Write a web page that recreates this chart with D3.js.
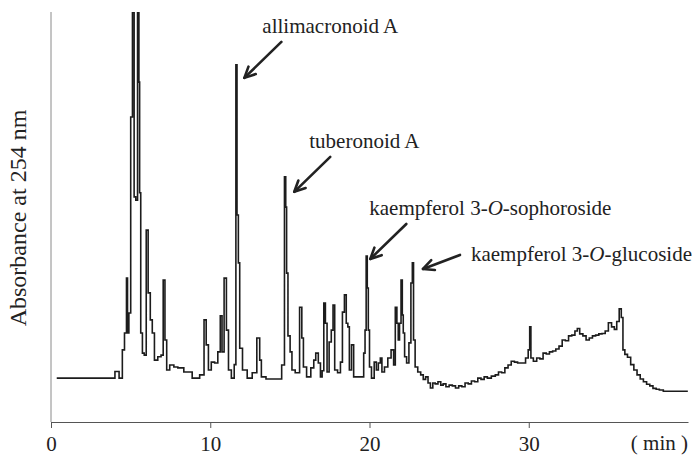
<!DOCTYPE html>
<html>
<head>
<meta charset="utf-8">
<script src="https://cdn.jsdelivr.net/npm/d3@7"></script>
<style>
  html, body { margin: 0; padding: 0; background: #fff; }
  svg { display: block; }
  text { font-family: "Liberation Serif", "DejaVu Serif", serif; fill: #222; }
</style>
</head>
<body>
<div class="chart"></div>
<script>
// 크로마토그램 데이터 (retention time, min / absorbance, 임의 단위)
const times = [
  0.36, 3.91, 4.12, 4.43, 4.53, 4.70, 4.78, 4.83, 4.95, 5.06,
  5.17, 5.27, 5.38, 5.49, 5.55, 5.58, 5.69, 5.79, 5.92, 6.04,
  6.16, 6.31, 6.41, 6.58, 6.83, 6.99, 7.10, 7.21, 7.32, 7.59,
  7.84, 8.09, 8.59, 9.14, 9.53, 9.69, 9.80, 9.97, 10.16, 10.39,
  10.56, 10.70, 10.78, 10.96, 11.07, 11.22, 11.43, 11.58, 11.64, 11.72,
  11.81, 11.89, 12.16, 12.48, 12.79, 13.06, 13.15, 13.27, 13.73, 14.36,
  14.61, 14.71, 14.77, 14.82, 14.94, 15.09, 15.17, 15.50, 15.72, 15.78,
  15.92, 16.18, 16.45, 16.55, 16.70, 16.87, 16.97, 17.08, 17.18, 17.28,
  17.39, 17.54, 17.66, 17.76, 17.87, 18.12, 18.23, 18.37, 18.48, 18.60,
  18.68, 18.79, 18.95, 19.06, 19.58, 19.69, 19.75, 19.83, 19.89, 19.96,
  20.04, 20.21, 20.38, 20.48, 20.63, 20.73, 20.83, 21.05, 21.25, 21.46,
  21.57, 21.67, 21.77, 21.84, 21.93, 22.03, 22.09, 22.15, 22.26, 22.40,
  22.55, 22.65, 22.73, 22.80, 22.93, 23.13, 23.30, 23.45, 23.60, 23.75,
  23.90, 24.05, 24.20, 24.40, 24.55, 24.70, 24.90, 25.10, 25.30, 25.50,
  25.70, 25.90, 26.10, 26.30, 26.50, 26.70, 26.90, 27.10, 27.30, 27.50,
  27.80, 28.00, 28.20, 28.40, 28.60, 28.80, 29.00, 29.20, 29.40, 29.70,
  29.90, 30.03, 30.09, 30.18, 30.40, 30.60, 30.80, 31.00, 31.20, 31.40,
  31.60, 31.80, 32.00, 32.20, 32.40, 32.60, 32.80, 33.00, 33.10, 33.30,
  33.50, 33.70, 33.90, 34.10, 34.30, 34.50, 34.70, 34.90, 35.10, 35.30,
  35.45, 35.60, 35.76, 35.86, 35.97, 36.10, 36.30, 36.50, 36.70, 36.90,
  37.10, 37.30, 37.50, 37.70, 37.90, 38.10, 38.30, 38.60, 39.99
];
const absorbance = [
  107, 107, 123, 107, 176, 217, 351, 217, 266, 744,
  1000, 549, 541, 1000, 829, 559, 217, 168, 163, 468,
  315, 249, 217, 151, 159, 163, 346, 200, 127, 139,
  134, 132, 122, 107, 115, 249, 188, 127, 146, 144,
  171, 259, 171, 351, 224, 127, 107, 140, 871, 505,
  388, 180, 127, 107, 120, 205, 151, 110, 105, 105,
  139, 598, 524, 363, 210, 171, 127, 120, 280, 205,
  134, 110, 132, 151, 168, 144, 110, 125, 290, 241,
  122, 195, 224, 285, 127, 120, 146, 268, 310, 241,
  232, 127, 188, 110, 110, 168, 224, 405, 327, 224,
  134, 107, 146, 127, 144, 156, 122, 134, 156, 176,
  139, 280, 241, 200, 241, 346, 261, 217, 159, 144,
  193, 339, 388, 200, 134, 122, 115, 104, 110, 95,
  83, 95, 93, 98, 90, 93, 86, 90, 88, 83,
  88, 86, 95, 93, 100, 98, 107, 104, 110, 107,
  112, 115, 122, 120, 132, 139, 148, 146, 144, 144,
  156, 176, 232, 156, 148, 156, 154, 168, 166, 171,
  173, 178, 185, 200, 198, 210, 212, 222, 228, 215,
  210, 200, 205, 210, 212, 215, 216, 222, 242, 232,
  226, 245, 276, 255, 176, 165, 158, 140, 127, 115,
  105, 98, 92, 88, 82, 80, 78, 75, 75
];
const xTicks = [0, 10, 20, 30];

// 주석 (화합물 이름, 피크 위치)
const compounds = ['allimacronoid A', 'tuberonoid A', 'kaempferol 3-O-sophoroside', 'kaempferol 3-O-glucoside'];
const compoundTimes = [11.64, 14.71, 19.83, 22.73];
const compoundValues = [871, 598, 405, 388];

// 레이아웃
const W = 696, H = 456;
const plot = {left: 51, right: 688, top: 12, bottom: 422};
// 화살표 끝(피크 기준 오프셋), 화살표 꼬리(끝 기준), 글자 위치(꼬리 기준)
const arrowLayout = [
  {tip: [8, 13],  tail: [37, -36], label: [-19, -9]},
  {tip: [9, 15],  tail: [36, -35], label: [-21, -9]},
  {tip: [3.5, 3], tail: [36, -35], label: [-37, -9]},
  {tip: [10, 6],  tail: [37, -14], label: [11, 6]}
];

const x = d3.scaleLinear().domain([0, 40]).range([plot.left, plot.right]);
const y = d3.scaleLinear().domain([0, 1000]).range([plot.bottom, plot.top]);

const svg = d3.select('.chart').append('svg')
  .attr('width', W)
  .attr('height', H);

svg.append('defs').append('clipPath').attr('id', 'clip')
  .append('rect')
    .attr('x', plot.left).attr('y', plot.top)
    .attr('width', plot.right - plot.left).attr('height', plot.bottom - plot.top);

/******************** 축 ********************/
// y축 (눈금 없음)
svg.append('line')
  .attr('x1', plot.left).attr('x2', plot.left)
  .attr('y1', plot.top).attr('y2', plot.bottom)
  .attr('stroke', '#8a8a8a').attr('stroke-width', 1);

// x축
const xAxis = svg.append('g')
  .attr('transform', `translate(0,${plot.bottom})`)
  .call(d3.axisBottom(x).tickValues(xTicks).tickSize(6).tickPadding(8).tickSizeOuter(0));
xAxis.select('.domain').attr('stroke', '#555').attr('stroke-width', 1);
xAxis.selectAll('.tick line').attr('stroke', '#555');
xAxis.selectAll('.tick text')
  .attr('font-family', '"Liberation Serif", serif')
  .attr('font-size', '21px')
  .attr('fill', '#222');

svg.append('text')
  .attr('x', plot.right)
  .attr('y', 450)
  .attr('text-anchor', 'end')
  .attr('font-size', '21px')
  .attr('xml:space', 'preserve')
  .text('( min )');

// y축 제목
svg.append('text')
  .attr('transform', `translate(26,218) rotate(-90)`)
  .attr('text-anchor', 'middle')
  .attr('font-size', '24px')
  .text('Absorbance at 254 nm');

/******************** 크로마토그램 ********************/
const points = d3.range(times.length).map(i => [times[i], absorbance[i]]);
const line = d3.line()
  .x(d => x(d[0]))
  .y(d => y(d[1]))
  .curve(d3.curveStep);

svg.append('path')
  .datum(points)
  .attr('clip-path', 'url(#clip)')
  .attr('fill', 'none')
  .attr('stroke', '#1c1c1c')
  .attr('stroke-width', 1.6)
  .attr('stroke-linejoin', 'miter')
  .attr('d', line);

/******************** 주석 (화살표 + 이름) ********************/
const ann = svg.append('g').attr('class', 'annotations');
compounds.forEach((name, i) => {
  const L = arrowLayout[i];
  const tx = x(compoundTimes[i]) + L.tip[0];
  const ty = y(compoundValues[i]) + L.tip[1];
  const sx = tx + L.tail[0];
  const sy = ty + L.tail[1];
  const ang = Math.atan2(sy - ty, sx - tx);
  const head = 12, spread = 0.45;
  const g = ann.append('g')
    .attr('stroke', '#222')
    .attr('stroke-width', 2.6)
    .attr('fill', 'none')
    .attr('stroke-linecap', 'round')
    .attr('stroke-linejoin', 'round');
  g.append('line')
    .attr('x1', sx).attr('y1', sy)
    .attr('x2', tx).attr('y2', ty);
  g.append('path')
    .attr('d', `M${tx + head * Math.cos(ang - spread)},${ty + head * Math.sin(ang - spread)}L${tx},${ty}L${tx + head * Math.cos(ang + spread)},${ty + head * Math.sin(ang + spread)}`);

  // "3-O-" 의 O 는 이탤릭
  const t = ann.append('text')
    .attr('x', sx + L.label[0])
    .attr('y', sy + L.label[1])
    .attr('font-size', '21px');
  const parts = name.split('-O-');
  if (parts.length === 2) {
    t.append('tspan').text(parts[0] + '-');
    t.append('tspan').attr('font-style', 'italic').text('O');
    t.append('tspan').text('-' + parts[1]);
  } else {
    t.text(name);
  }
});
</script>
</body>
</html>
